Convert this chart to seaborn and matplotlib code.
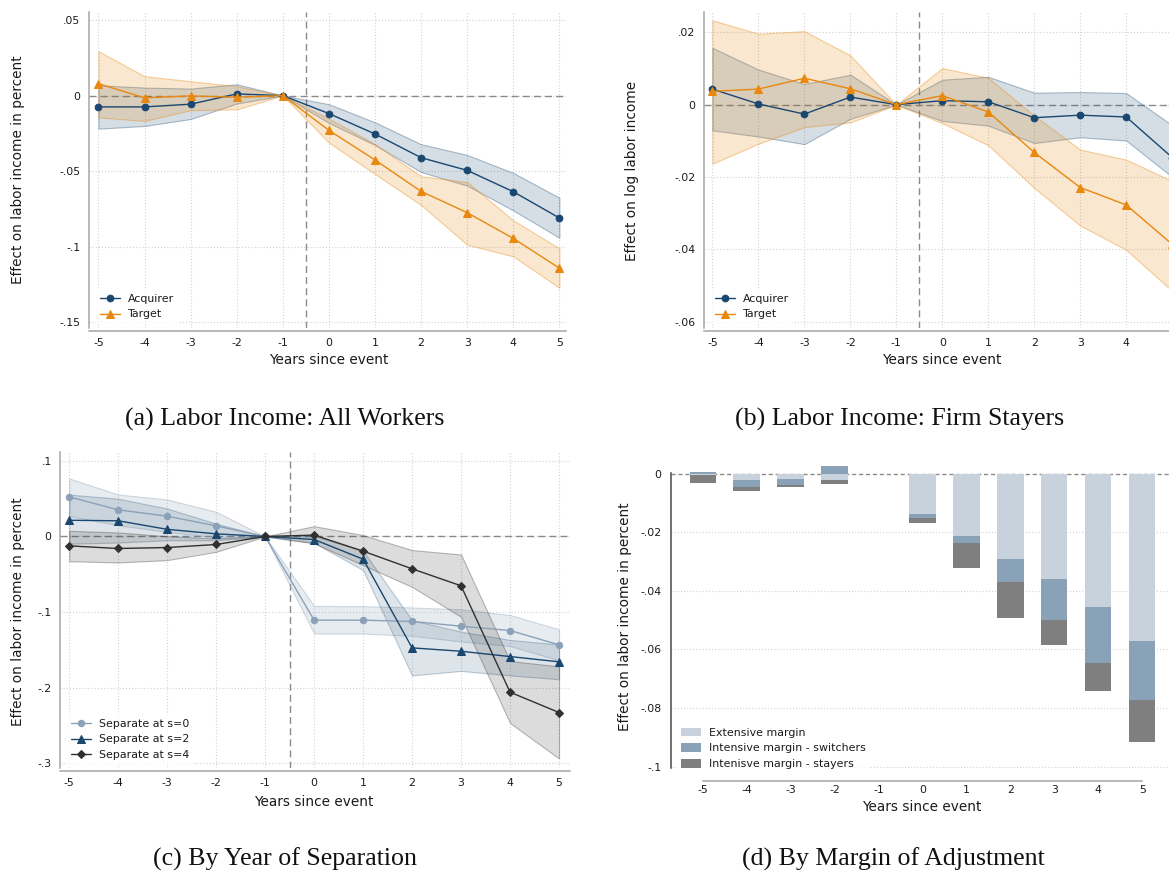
import matplotlib
matplotlib.use("Agg")
import matplotlib.pyplot as plt
import seaborn as sns
from matplotlib.colors import to_rgba

W, H = 1169, 873

years = [-5, -4, -3, -2, -1, 0, 1, 2, 3, 4, 5]

# (a) Labor income, all workers
acq_all = [-0.0075, -0.0075, -0.0057, 0.0011, 0, -0.0119, -0.0254, -0.0411, -0.0495, -0.0636, -0.0810]
acq_all_hi = [0.0068, 0.0053, 0.0046, 0.0075, 0, -0.0057, -0.0177, -0.0322, -0.0393, -0.0512, -0.0676]
acq_all_lo = [-0.0219, -0.0201, -0.0155, -0.0053, 0, -0.0181, -0.0327, -0.0506, -0.0596, -0.0760, -0.0941]
tgt_all = [0.0079, -0.0015, -0.0002, -0.0011, 0, -0.0230, -0.0426, -0.0634, -0.0775, -0.0945, -0.1142]
tgt_all_hi = [0.0294, 0.0128, 0.0095, 0.0062, 0, -0.0152, -0.0322, -0.0534, -0.0572, -0.0826, -0.1011]
tgt_all_lo = [-0.0144, -0.0168, -0.0097, -0.0091, 0, -0.0311, -0.0519, -0.0724, -0.0987, -0.1064, -0.1272]

# (b) Log labor income, firm stayers
acq_stay = [0.0043, 0.0002, -0.0026, 0.0021, 0, 0.0011, 0.0008, -0.0036, -0.0029, -0.0034, -0.0146]
acq_stay_hi = [0.0157, 0.0097, 0.0057, 0.0083, 0, 0.0069, 0.0077, 0.0033, 0.0035, 0.0032, -0.0057]
acq_stay_lo = [-0.0071, -0.0088, -0.0109, -0.0039, 0, -0.0045, -0.0058, -0.0106, -0.0090, -0.0099, -0.0200]
tgt_stay = [0.0037, 0.0043, 0.0073, 0.0044, 0, 0.0025, -0.0020, -0.0132, -0.0229, -0.0277, -0.0386]
tgt_stay_hi = [0.0233, 0.0196, 0.0203, 0.0136, 0, 0.0101, 0.0074, -0.0030, -0.0124, -0.0152, -0.0211]
tgt_stay_lo = [-0.0163, -0.0108, -0.0062, -0.0049, 0, -0.0051, -0.0112, -0.0230, -0.0334, -0.0401, -0.0515]

# (c) By year of separation
sep0 = [0.0525, 0.0353, 0.0269, 0.0141, 0, -0.1108, -0.1108, -0.1125, -0.1188, -0.1245, -0.1435]
sep0_hi = [0.0768, 0.0556, 0.0490, 0.0327, 0, -0.0920, -0.0923, -0.0940, -0.0965, -0.1040, -0.1230]
sep0_lo = [0.0270, 0.0150, 0.0060, -0.0010, 0, -0.1285, -0.1285, -0.1315, -0.1390, -0.1450, -0.1640]
sep2 = [0.0215, 0.0208, 0.0095, 0.0035, 0, -0.0040, -0.0300, -0.1475, -0.1520, -0.1590, -0.1660]
sep2_hi = [0.0555, 0.0500, 0.0370, 0.0170, 0, 0.0005, -0.0190, -0.1110, -0.1260, -0.1370, -0.1430]
sep2_lo = [-0.0095, -0.0080, -0.0050, -0.0050, 0, -0.0085, -0.0445, -0.1840, -0.1780, -0.1840, -0.1890]
sep4 = [-0.0124, -0.0159, -0.0146, -0.0106, 0, 0.0018, -0.0194, -0.0428, -0.0653, -0.2062, -0.2331]
sep4_hi = [0.0075, 0.0053, 0.0004, -0.0026, 0, 0.0137, 0.0018, -0.0180, -0.0238, -0.1650, -0.1720]
sep4_lo = [-0.0327, -0.0344, -0.0313, -0.0203, 0, -0.0090, -0.0380, -0.0667, -0.1064, -0.2470, -0.2940]

# (d) By margin of adjustment
extensive = [-0.0006, -0.0022, -0.0018, -0.0022, 0, -0.0137, -0.0212, -0.0291, -0.0359, -0.0454, -0.0570]
switchers = [0.0007, -0.0024, -0.0020, 0.0026, 0, -0.0014, -0.0024, -0.0078, -0.0140, -0.0191, -0.0201]
stayers = [-0.0025, -0.0013, -0.0009, -0.0013, 0, -0.0016, -0.0087, -0.0122, -0.0087, -0.0098, -0.0145]

xlabels = [str(y) for y in years]
xlabels_b = xlabels[:-1] + [""]
yticks_a = [0.05, 0, -0.05, -0.1, -0.15]
ylabels_a = [".05", "0", "-.05", "-.1", "-.15"]
yticks_b = [0.02, 0, -0.02, -0.04, -0.06]
ylabels_b = [".02", "0", "-.02", "-.04", "-.06"]
yticks_c = [0.1, 0, -0.1, -0.2, -0.3]
ylabels_c = [".1", "0", "-.1", "-.2", "-.3"]
yticks_d = [0, -0.02, -0.04, -0.06, -0.08, -0.1]
ylabels_d = ["0", "-.02", "-.04", "-.06", "-.08", "-.1"]

NAVY = "#1a476f"
ORANGE = "#e8880f"
STEEL = "#8ba1b8"
CHAR = "#303030"
EXT_C = "#c7d2dc"
SWI_C = "#8aa2b8"
STA_C = "#7f7f7f"
GRID = "#d2d2d2"
AXC = "#a6a6a6"
REFC = "#8a8a8a"
TXT = "#1a1a1a"

sns.set_theme(style="white")
plt.rcParams["font.family"] = ["DejaVu Sans"]
plt.rcParams["text.color"] = TXT
plt.rcParams["axes.labelcolor"] = TXT
plt.rcParams["xtick.color"] = TXT
plt.rcParams["ytick.color"] = TXT

TICK_FS = 7.8
LAB_FS = 9.8
LEG_FS = 7.9

fig = plt.figure(figsize=(W / 100, H / 100), dpi=100)


def add_panel(left, top, right, bottom):
    return fig.add_axes([left / W, 1 - bottom / H, (right - left) / W, (bottom - top) / H])


def style_event(ax, xlim, ylim, yticks, ylabels, xlabs):
    ax.set_xlim(*xlim)
    ax.set_ylim(*ylim)
    ax.set_xticks(years, labels=xlabs)
    ax.set_yticks(yticks, labels=ylabels)
    ax.grid(True, color=GRID, lw=0.8, ls=(0, (1, 1.8)), zorder=0)
    ax.set_axisbelow(True)
    ax.axhline(0, color=REFC, lw=1.0, ls=(0, (5, 3)), zorder=1)
    ax.axvline(-0.5, color=REFC, lw=1.0, ls=(0, (5, 3)), zorder=1)
    for s in ("top", "right"):
        ax.spines[s].set_visible(False)
    for s in ("left", "bottom"):
        ax.spines[s].set_color(AXC)
        ax.spines[s].set_linewidth(1.1)
    ax.spines["bottom"].set_position(("outward", 2))
    ax.tick_params(axis="both", which="major", length=3.2, width=0.8, color=AXC,
                   labelsize=TICK_FS, direction="out")
    ax.tick_params(axis="x", pad=2)
    ax.tick_params(axis="y", pad=3)
    ax.set_xlabel("")
    ax.set_ylabel("")


def band(ax, lo, hi, color, alpha):
    ax.fill_between(years, lo, hi, facecolor=to_rgba(color, alpha),
                    edgecolor=to_rgba(color, min(1, alpha * 1.9)), lw=0.8, zorder=2)


def series(ax, y, color, marker, ms, label):
    sns.lineplot(x=years, y=y, ax=ax, color=color, marker=marker, markersize=ms,
                 markeredgecolor=color, markerfacecolor=color, lw=1.0, label=label,
                 zorder=4)


def place_legend(ax, x_px, y_px, **kw):
    handles, labels = ax.get_legend_handles_labels()
    leg = ax.legend(handles, labels, loc="upper left",
                    bbox_to_anchor=(x_px / W, 1 - y_px / H), bbox_transform=fig.transFigure,
                    borderaxespad=0, borderpad=0.4, frameon=True, fancybox=False,
                    fontsize=LEG_FS, labelspacing=0.53, handletextpad=0.75, **kw)
    leg.get_frame().set_facecolor("white")
    leg.get_frame().set_edgecolor("none")
    leg.set_zorder(10)
    return leg


# ---- (a)
ax = add_panel(89, 12, 566, 328)
style_event(ax, (-5.204, 5.143), (-0.1538, 0.0553), yticks_a, ylabels_a, xlabels)
band(ax, acq_all_lo, acq_all_hi, NAVY, 0.18)
band(ax, tgt_all_lo, tgt_all_hi, ORANGE, 0.2)
series(ax, acq_all, NAVY, "o", 4.8, "Acquirer")
series(ax, tgt_all, ORANGE, "^", 5.6, "Target")
place_legend(ax, 95.6, 289.2, handlelength=1.8)
fig.text(329 / W, 1 - 360 / H, "Years since event", ha="center", va="center", fontsize=LAB_FS)
fig.text(18.5 / W, 1 - 170 / H, "Effect on labor income in percent", rotation=90,
         ha="center", va="center", fontsize=LAB_FS)

# ---- (b)
ax = add_panel(704, 12, 1180, 328)
style_event(ax, (-5.183, 5.169), (-0.0617, 0.0256), yticks_b, ylabels_b, xlabels_b)
band(ax, acq_stay_lo, acq_stay_hi, NAVY, 0.18)
band(ax, tgt_stay_lo, tgt_stay_hi, ORANGE, 0.2)
series(ax, acq_stay, NAVY, "o", 4.8, "Acquirer")
series(ax, tgt_stay, ORANGE, "^", 5.6, "Target")
place_legend(ax, 710.5, 289.2, handlelength=1.8)
fig.text(942 / W, 1 - 360 / H, "Years since event", ha="center", va="center", fontsize=LAB_FS)
fig.text(632 / W, 1 - 171 / H, "Effect on log labor income", rotation=90,
         ha="center", va="center", fontsize=LAB_FS)

# ---- (c)
ax = add_panel(60.3, 452, 570, 768)
style_event(ax, (-5.182, 5.224), (-0.3066, 0.1119), yticks_c, ylabels_c, xlabels)
band(ax, sep0_lo, sep0_hi, STEEL, 0.2)
band(ax, sep2_lo, sep2_hi, NAVY, 0.14)
band(ax, sep4_lo, sep4_hi, CHAR, 0.17)
series(ax, sep0, STEEL, "o", 4.6, "Separate at s=0")
series(ax, sep2, NAVY, "^", 5.6, "Separate at s=2")
series(ax, sep4, CHAR, "D", 4.2, "Separate at s=4")
place_legend(ax, 66.6, 714.2, handlelength=1.8)
fig.text(314 / W, 1 - 802 / H, "Years since event", ha="center", va="center", fontsize=LAB_FS)
fig.text(18.5 / W, 1 - 611.5 / H, "Effect on labor income in percent", rotation=90,
         ha="center", va="center", fontsize=LAB_FS)

# ---- (d)
ax = add_panel(670.7, 463, 1174.6, 767.5)
ax.set_xlim(-5.728, 5.737)
ax.set_ylim(-0.1003, 0.00365)
pos_base = [0.0] * len(years)
neg_base = [0.0] * len(years)
for vals, col, lab in ((extensive, EXT_C, "Extensive margin"),
                       (switchers, SWI_C, "Intensive margin - switchers"),
                       (stayers, STA_C, "Intenisve margin - stayers")):
    bottoms = []
    for i, v in enumerate(vals):
        if v >= 0:
            bottoms.append(pos_base[i])
            pos_base[i] += v
        else:
            bottoms.append(neg_base[i])
            neg_base[i] += v
    ax.bar(years, vals, bottom=bottoms, width=0.6, color=col, lw=0, zorder=3, label=lab)
ax.set_xticks(years, labels=xlabels)
ax.set_yticks(yticks_d, labels=ylabels_d)
for t in yticks_d[1:]:
    ax.axhline(t, color=GRID, lw=0.8, ls=(0, (1, 1.8)), zorder=0)
ax.axhline(0, color=REFC, lw=1.0, ls=(0, (3, 2)), zorder=1)
for s in ("top", "right"):
    ax.spines[s].set_visible(False)
ax.spines["left"].set_color("#4a4a4a")
ax.spines["left"].set_linewidth(1.1)
ax.spines["left"].set_bounds(-0.1003, 0.0004)
ax.spines["bottom"].set_color(AXC)
ax.spines["bottom"].set_linewidth(1.1)
ax.spines["bottom"].set_position(("outward", 9.6))
ax.spines["bottom"].set_bounds(-5, 5)
ax.tick_params(axis="x", length=0, labelsize=TICK_FS, pad=3)
ax.tick_params(axis="y", length=3.6, width=0.8, color="#4a4a4a", labelsize=TICK_FS,
               direction="out", pad=3)
place_legend(ax, 676.6, 723.2, handlelength=1.8, handleheight=0.8)
fig.text(922 / W, 1 - 806.7 / H, "Years since event", ha="center", va="center", fontsize=LAB_FS)
fig.text(624.5 / W, 1 - 616.5 / H, "Effect on labor income in percent", rotation=90,
         ha="center", va="center", fontsize=LAB_FS)

# ---- sub-figure captions
CAP = dict(ha="center", va="center", family=["Liberation Serif", "DejaVu Serif"], fontsize=18.6,
           color="#111111")
fig.text(285 / W, 1 - 419 / H, "(a) Labor Income: All Workers", **CAP)
fig.text(900 / W, 1 - 419 / H, "(b) Labor Income: Firm Stayers", **CAP)
fig.text(285 / W, 1 - 859 / H, "(c) By Year of Separation", **CAP)
fig.text(893 / W, 1 - 859 / H, "(d) By Margin of Adjustment", **CAP)

fig.savefig("out.png", dpi=100, facecolor="white")
